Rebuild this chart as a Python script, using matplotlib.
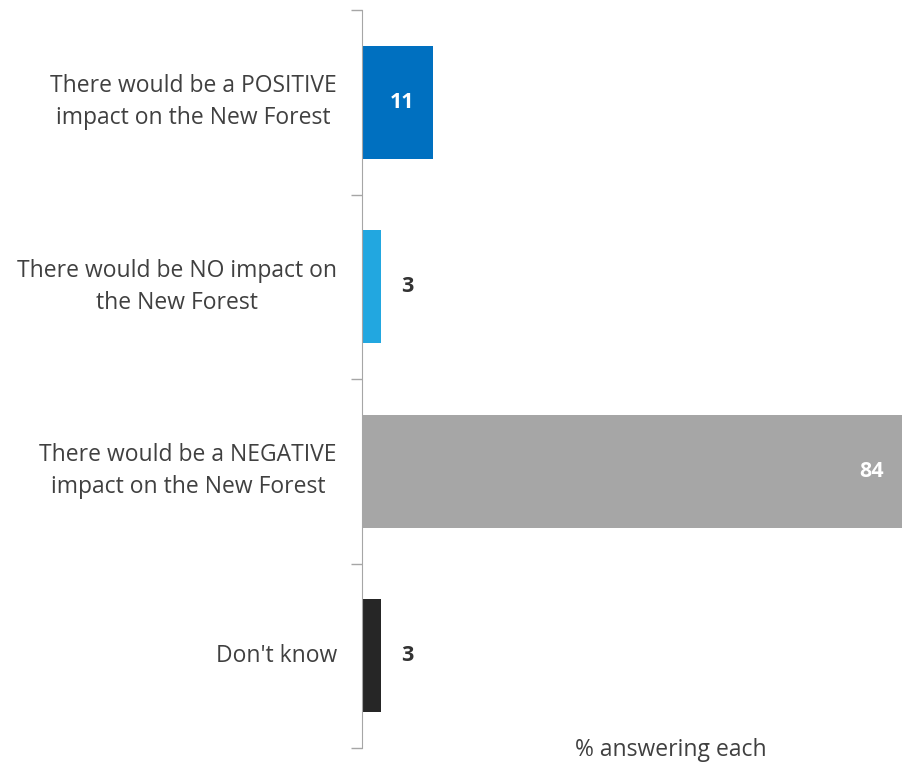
import matplotlib.pyplot as plt
import numpy as np

plt.rcParams['font.family'] = ['Open Sans', 'DejaVu Sans']

labels = ['There would be a POSITIVE\nimpact on the New Forest',
          'There would be NO impact on\nthe New Forest',
          'There would be a NEGATIVE\nimpact on the New Forest',
          "Don't know"]
values = [11, 3, 84, 3]
colors = ['#0070C0', '#22A7E0', '#A6A6A6', '#262626']
inside = [True, False, True, False]

fig = plt.figure(figsize=(9.04, 7.67), dpi=100)
ax = fig.add_axes([362 / 904, 1 - 748 / 767, 1 - 362 / 904, 738 / 767])

y = np.arange(len(values))
bars = ax.barh(y, values, height=0.61, color=colors)
ax.set_ylim(len(values) - 0.5, -0.5)
ax.set_xlim(0, 84.3)

for b, v, ins in zip(bars, values, inside):
    yc = b.get_y() + b.get_height() / 2
    if ins:
        ax.annotate(str(v), (v, yc), xytext=(-18, 0), textcoords='offset pixels',
                    ha='right', va='center', color='white', fontsize=15.5,
                    fontweight='bold')
    else:
        ax.annotate(str(v), (v, yc), xytext=(20, 0), textcoords='offset pixels',
                    ha='left', va='center', color='#333333', fontsize=15.5,
                    fontweight='bold')

# category labels, right edge of text block at ~337px
for yi, lab in zip(y, labels):
    ax.annotate(lab, (0, yi), xytext=(-25, 0), textcoords='offset pixels',
                ha='right', va='center', fontsize=16.5, color='#404040',
                multialignment='center', linespacing=1.45)

ax.set_yticks(np.arange(len(values) + 1) - 0.5)
ax.set_yticklabels([])
ax.tick_params(axis='y', length=8, width=1, color='#A6A6A6')
ax.set_xticks([])
for s in ['top', 'right', 'bottom']:
    ax.spines[s].set_visible(False)
ax.spines['left'].set_color('#A6A6A6')

fig.text(671 / 904, 1 - 750 / 767, '% answering each', ha='center', va='center',
         fontsize=16.5, color='#404040')

fig.savefig('out.png', dpi=100)
